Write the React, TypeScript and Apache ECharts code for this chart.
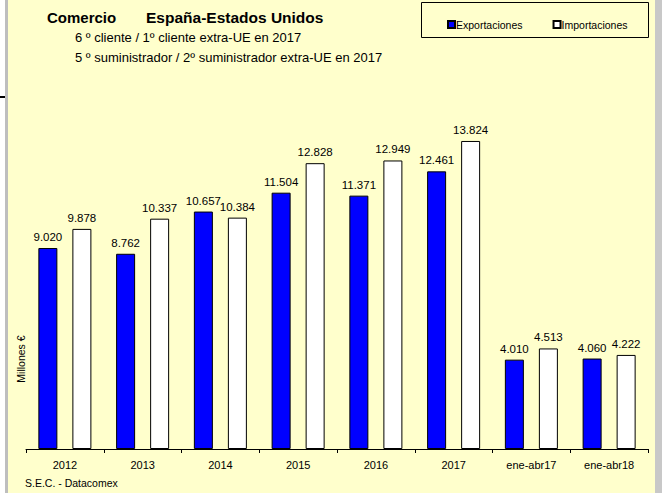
import React, { useEffect, useRef } from "react";
import * as echarts from "echarts";

const categories = ["2012", "2013", "2014", "2015", "2016", "2017", "ene-abr17", "ene-abr18"];
const exportaciones = [9020, 8762, 10657, 11504, 11371, 12461, 4010, 4060];
const importaciones = [9878, 10337, 10384, 12828, 12949, 13824, 4513, 4222];

const FONT = "Liberation Sans, Arial, sans-serif";

const fmt = (v: number) => {
  const s = String(Math.round(v));
  return s.length > 3 ? s.slice(0, s.length - 3) + "." + s.slice(s.length - 3) : s;
};

export default function App() {
  const ref = useRef<HTMLDivElement>(null);
  useEffect(() => {
    document.body.style.margin = "0";
    const chart = echarts.init(ref.current!, null, { renderer: "svg" });
    const labelCfg = {
      show: true,
      position: "top" as const,
      distance: 5,
      fontFamily: FONT,
      fontSize: 11.5,
      color: "#000",
      formatter: (p: any) => fmt(p.value),
    };
    chart.setOption({
      animation: false,
      backgroundColor: "#FFFFCC",
      textStyle: { fontFamily: FONT },
      grid: { left: 26, right: 14, top: 92.5, bottom: 44 },
      legend: {
        left: 442,
        top: 14,
        itemWidth: 7,
        itemHeight: 7,
        itemGap: 30,
        icon: "rect",
        textStyle: { fontFamily: FONT, fontSize: 10.5, color: "#000", padding: [0, 0, 0, -4] },
        data: ["Exportaciones", "Importaciones"],
      },
      xAxis: {
        type: "category",
        data: categories,
        axisLine: { lineStyle: { color: "#000", width: 1 } },
        axisTick: { show: true, length: 4, lineStyle: { color: "#000" } },
        axisLabel: { fontFamily: FONT, fontSize: 11, color: "#000", margin: 10 },
      },
      yAxis: {
        type: "value",
        min: 0,
        max: 16000,
        show: false,
        splitLine: { show: false },
      },
      series: [
        {
          name: "Exportaciones",
          type: "bar",
          data: exportaciones,
          barWidth: 19,
          barGap: "79%",
          itemStyle: { color: "#0000FF", borderColor: "#000", borderWidth: 1 },
          label: labelCfg,
        },
        {
          name: "Importaciones",
          type: "bar",
          data: importaciones,
          barWidth: 19,
          itemStyle: { color: "#FFFFFF", borderColor: "#000", borderWidth: 1 },
          label: labelCfg,
        },
      ],
      graphic: [
        { type: "rect", shape: { x: 0, y: 0, width: 5, height: 493 }, style: { fill: "#FFFFFF" }, z: 100 },
        { type: "rect", shape: { x: 5, y: 0, width: 3, height: 493 }, style: { fill: "#BEBEBE" }, z: 100 },
        { type: "rect", shape: { x: 0, y: 96, width: 5, height: 2 }, style: { fill: "#000" }, z: 101 },
        { type: "rect", shape: { x: 655, y: 0, width: 7, height: 493 }, style: { fill: "#C8C8C8" }, z: 100 },
        {
          type: "rect",
          shape: { x: 421.5, y: 2.5, width: 227, height: 35 },
          style: { fill: "none", stroke: "#000", lineWidth: 1 },
          z: 50,
        },
        {
          type: "text",
          x: 47,
          y: 17,
          style: { text: "Comercio", font: "bold 15px " + FONT, fill: "#000", textVerticalAlign: "middle" },
        },
        {
          type: "text",
          x: 146,
          y: 17,
          style: { text: "España-Estados Unidos", font: "bold 15.5px " + FONT, fill: "#000", textVerticalAlign: "middle" },
        },
        {
          type: "text",
          x: 75,
          y: 37,
          style: { text: "6 º cliente / 1º cliente extra-UE en 2017", font: "13px " + FONT, fill: "#000", textVerticalAlign: "middle" },
        },
        {
          type: "text",
          x: 75,
          y: 57,
          style: { text: "5 º suministrador / 2º suministrador extra-UE en 2017", font: "13px " + FONT, fill: "#000", textVerticalAlign: "middle" },
        },
        {
          type: "text",
          x: 21,
          y: 359,
          rotation: Math.PI / 2,
          style: { text: "Millones €", font: "10.5px " + FONT, fill: "#000", textAlign: "center", textVerticalAlign: "middle" },
        },
        {
          type: "text",
          x: 25,
          y: 483,
          style: { text: "S.E.C. - Datacomex", font: "10.5px " + FONT, fill: "#000", textVerticalAlign: "middle" },
        },
      ],
    });
    return () => chart.dispose();
  }, []);
  return <div ref={ref} style={{ width: 662, height: 493 }} />;
}
